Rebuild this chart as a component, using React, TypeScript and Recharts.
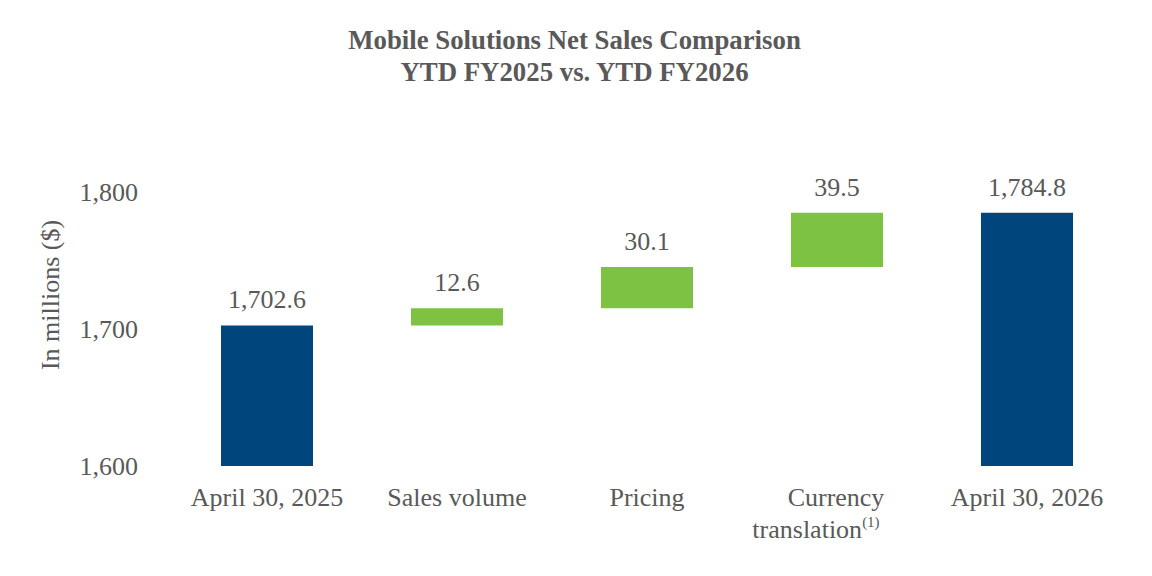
import { BarChart, Bar, Cell, XAxis, YAxis, LabelList, Label } from 'recharts'

const CATEGORIES = ['April 30, 2025', 'Sales volume', 'Pricing', 'Currency translation', 'April 30, 2026']
const AMOUNTS = [1702.6, 12.6, 30.1, 39.5, 1784.8]
const KINDS = ['total', 'change', 'change', 'change', 'total']
const FOOTNOTES = ['', '', '', '(1)', '']
const Y_TICKS = [1600, 1700, 1800]

const BLUE = '#00457c'
const GREEN = '#7dc242'
const GRAY = '#595959'
const FONT = '"Liberation Serif", "Times New Roman", serif'

// waterfall: invisible base under each change bar, totals start from zero
let running = 0
const chartData = CATEGORIES.map((name, i) => {
  const isTotal = KINDS[i] === 'total'
  const base = isTotal ? 0 : running
  running = isTotal ? AMOUNTS[i] : running + AMOUNTS[i]
  return { name, base, value: AMOUNTS[i], kind: KINDS[i], note: FOOTNOTES[i] }
})

const fmt = (v: number) =>
  v.toLocaleString('en-US', { minimumFractionDigits: 1, maximumFractionDigits: 1 })

function CategoryTick(props: any) {
  const { x, y, payload, index } = props
  const words = String(payload.value)
  const note = FOOTNOTES[index] ?? ''
  if (words === 'Currency translation') {
    return (
      <g>
        <text x={x - 1} y={y + 40} textAnchor="middle" fill={GRAY} fontSize={26}>
          Currency
        </text>
        <text x={x - 21} y={y + 72} textAnchor="middle" fill={GRAY} fontSize={26}>
          translation
          <tspan fontSize={15} dy={-11}>{note}</tspan>
        </text>
      </g>
    )
  }
  return (
    <text x={x} y={y + 40} textAnchor="middle" fill={GRAY} fontSize={26}>
      {words}
    </text>
  )
}

export default function App() {
  return (
    <div style={{ position: 'absolute', left: 0, top: 0, width: 1152, height: 576, background: '#fff', fontFamily: FONT }}>
      <div
        style={{
          position: 'absolute',
          left: 0,
          top: 24,
          width: 1149,
          textAlign: 'center',
          fontWeight: 'bold',
          fontSize: 26.8,
          lineHeight: '32px',
          color: GRAY,
        }}
      >
        <div>Mobile Solutions Net Sales Comparison</div>
        <div>YTD FY2025 vs. YTD FY2026</div>
      </div>
      <BarChart
        width={1152}
        height={576}
        data={chartData}
        margin={{ top: 192, right: 30, left: 0, bottom: 0 }}
        style={{ fontFamily: FONT }}
      >
        <XAxis
          dataKey="name"
          axisLine={false}
          tickLine={false}
          tickSize={0}
          tickMargin={0}
          height={110}
          interval={0}
          tick={<CategoryTick />}
        />
        <YAxis
          domain={[1600, 1800]}
          ticks={Y_TICKS}
          allowDataOverflow
          axisLine={false}
          tickLine={false}
          tickSize={0}
          tickMargin={34}
          width={172}
          tick={{ fill: GRAY, fontSize: 26 }}
          tickFormatter={(v: number) => v.toLocaleString('en-US')}
        >
          <Label
            content={() => (
              <text
                x={59}
                y={295}
                transform="rotate(-90, 59, 295)"
                textAnchor="middle"
                fill={GRAY}
                fontSize={26}
              >
                In millions ($)
              </text>
            )}
          />
        </YAxis>
        <Bar dataKey="base" stackId="w" fill="transparent" barSize={92} isAnimationActive={false} />
        <Bar dataKey="value" stackId="w" barSize={92} isAnimationActive={false}>
          {chartData.map((d) => (
            <Cell key={d.name} fill={d.kind === 'total' ? BLUE : GREEN} />
          ))}
          <LabelList
            dataKey="value"
            position="top"
            offset={17}
            fill={GRAY}
            fontSize={26}
            formatter={(v: any) => fmt(Number(v))}
          />
        </Bar>
      </BarChart>
    </div>
  )
}
